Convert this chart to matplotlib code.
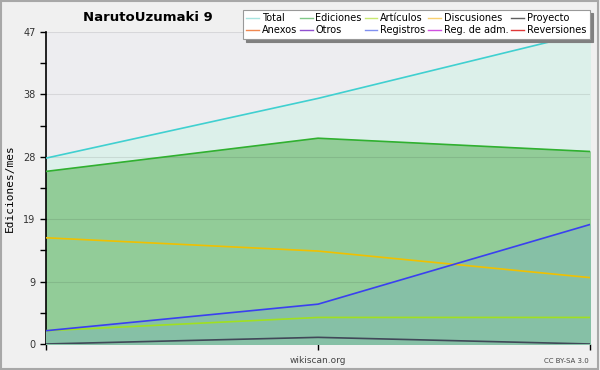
import matplotlib
matplotlib.use("Agg")
import matplotlib.pyplot as plt
from matplotlib.lines import Line2D
from matplotlib.patches import Rectangle

months = [0, 1, 2]
total = [28, 37, 47]
ediciones = [26, 31, 29]
discusiones = [16, 14, 10]
registros = [2, 6, 18]
articulos = [2, 4, 4]
proyecto = [0, 1, 0]

ymax = 47
# legend rows as shown in the chart (row-major)
legend_row1 = ["Total", "Ediciones", "Artículos", "Discusiones", "Proyecto"]
legend_row2 = ["Anexos", "Otros", "Registros", "Reg. de adm.", "Reversiones"]
colors_row1 = ["#a8e4e0", "#80c888", "#c8e870", "#f8d070", "#606060"]
colors_row2 = ["#f08850", "#9050d0", "#8090f0", "#d050e0", "#e03838"]

fig = plt.figure(figsize=(6, 3.7), dpi=100, facecolor="#f0f0f0")
fig.patches.append(Rectangle((0.002, 0.003), 0.994, 0.994, transform=fig.transFigure,
                             fill=False, edgecolor="#a8a8a8", linewidth=1.5))
ax = fig.add_axes([0.0767, 0.0703, 0.9066, 0.8432], facecolor="#ededf0")

ax.fill_between(months, 0, total, color="#dcf0ea", zorder=1)
ax.fill_between(months, 0, ediciones, color="#92cc98", zorder=2)
ax.fill_between(months, 0, registros, color="#86c0a6", zorder=3)
ax.plot(months, total, color="#40d0d0", lw=1.2, zorder=5)
ax.plot(months, ediciones, color="#30b030", lw=1.2, zorder=5)
ax.plot(months, discusiones, color="#f0c000", lw=1.2, zorder=5)
ax.plot(months, articulos, color="#a0e020", lw=1.2, zorder=5)
ax.plot(months, registros, color="#3a40f0", lw=1.2, zorder=5)
ax.plot(months, proyecto, color="#404858", lw=1.2, zorder=5)

ax.set_xlim(0, 2)
ax.set_ylim(0, ymax)
yt = [ymax * i / 5 for i in range(6)]
ax.set_yticks(yt)
ax.set_yticklabels([str(int(round(v))) for v in yt], fontsize=7, color="#333333")
ax.set_yticks([ymax * (i + 0.5) / 5 for i in range(5)], minor=True)
ax.set_xticks(months)
ax.set_xticklabels([])
ax.tick_params(axis="both", which="both", direction="out", length=4, width=1, color="black")
ax.grid(axis="y", color="black", alpha=0.09, lw=0.8, zorder=4)
ax.set_axisbelow(False)
for s in ["top", "right"]:
    ax.spines[s].set_visible(False)
ax.spines["left"].set_linewidth(1.2)
ax.spines["bottom"].set_linewidth(1.2)

ax.set_ylabel("Ediciones/mes", family="DejaVu Sans Mono", fontsize=8, labelpad=6)
fig.text(0.247, 0.953, "NarutoUzumaki 9", ha="center", va="center",
         fontsize=9.5, fontweight="bold")
fig.text(0.53, 0.025, "wikiscan.org", ha="center", va="center", fontsize=6.5, color="#444444")
fig.text(0.982, 0.025, "CC BY-SA 3.0", ha="right", va="center", fontsize=5, color="#444444")

# matplotlib fills legend columns first, so interleave the two rows
names, handles = [], []
for n1, c1, n2, c2 in zip(legend_row1, colors_row1, legend_row2, colors_row2):
    names += [n1, n2]
    handles += [Line2D([], [], color=c1, lw=1), Line2D([], [], color=c2, lw=1)]
leg = fig.legend(handles, names, ncol=5, loc="upper right",
                 bbox_to_anchor=(0.983, 0.973), fontsize=7, frameon=True,
                 fancybox=False, shadow={"color": "#808080", "alpha": 1}, handlelength=1.3,
                 handletextpad=0.3, columnspacing=0.3, labelspacing=0.2,
                 borderpad=0.35, borderaxespad=0)
leg.get_frame().set_edgecolor("#999999")
leg.get_frame().set_linewidth(0.8)

fig.savefig("out.png", dpi=100, facecolor=fig.get_facecolor())
